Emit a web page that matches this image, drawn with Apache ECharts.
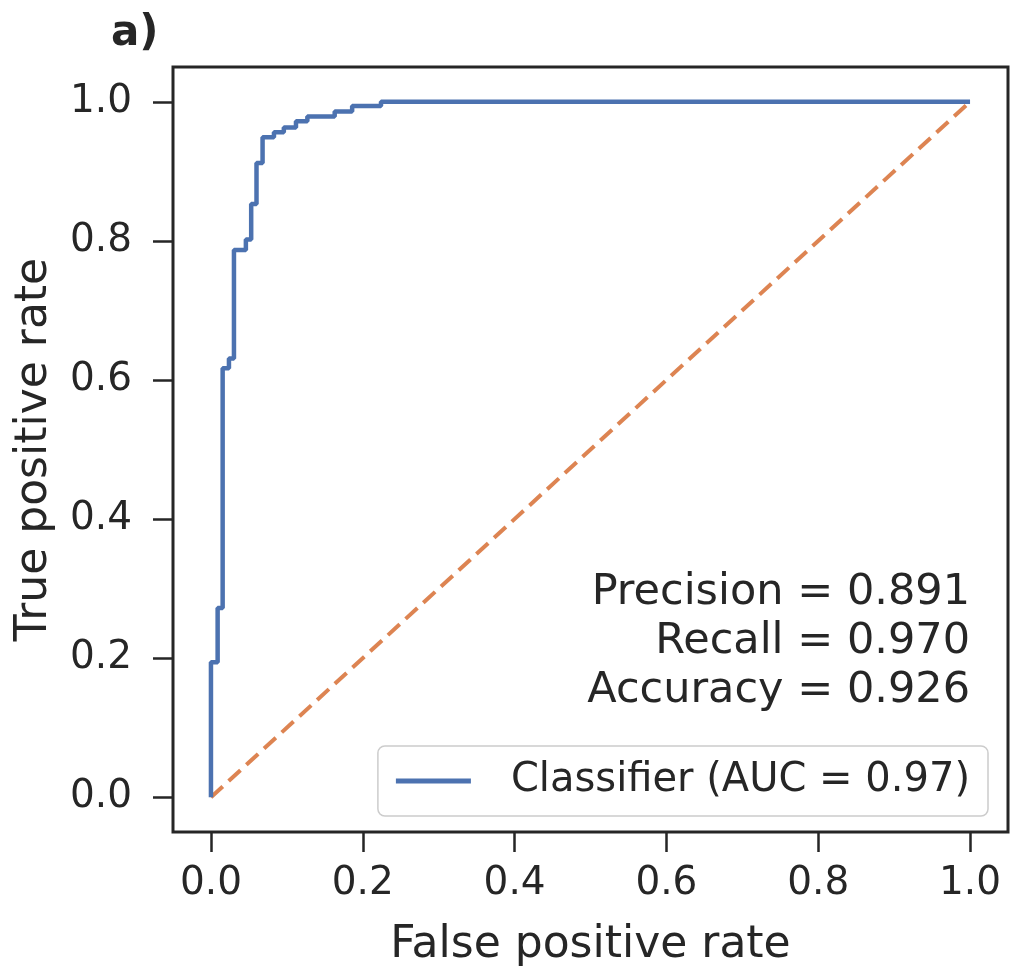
<!DOCTYPE html>
<html>
<head>
<meta charset="utf-8">
<script src="https://cdn.jsdelivr.net/npm/echarts@6/dist/echarts.min.js"></script>
<style>html,body{margin:0;padding:0;background:#fff}#c{width:1011px;height:973px}</style>
</head>
<body>
<div id="c"></div>
<script>
// ROC curve corner points (false positive rate, true positive rate)
const fpr = [0, 0, 0.0088, 0.0088, 0.0154, 0.0154, 0.0237, 0.0237, 0.0303, 0.0303, 0.046, 0.046, 0.053, 0.053, 0.060, 0.060, 0.068, 0.068, 0.083, 0.083, 0.096, 0.096, 0.112, 0.112, 0.127, 0.127, 0.163, 0.163, 0.186, 0.186, 0.224, 0.224, 1.0];
const tpr = [0, 0.194, 0.194, 0.272, 0.272, 0.617, 0.617, 0.631, 0.631, 0.787, 0.787, 0.802, 0.802, 0.853, 0.853, 0.912, 0.912, 0.949, 0.949, 0.956, 0.956, 0.963, 0.963, 0.972, 0.972, 0.979, 0.979, 0.986, 0.986, 0.994, 0.994, 1.0, 1.0];
const chanceX = [0, 1];
const chanceY = [0, 1];
const tickValues = [0, 0.2, 0.4, 0.6, 0.8, 1.0];
const seriesName = 'Classifier (AUC = 0.97)';
const metricsText = ['Precision = 0.891', 'Recall = 0.970', 'Accuracy = 0.926'];
const panelLabel = 'a)';
const xName = 'False positive rate';
const yName = 'True positive rate';

const FONT = 'DejaVu Sans';
const TXT = '#262626';
const chart = echarts.init(document.getElementById('c'));

function axis(name, isX) {
  return {
    type: 'value', min: -0.05, max: 1.05,
    name: name, nameLocation: 'middle', nameGap: isX ? 92 : 116,
    nameTextStyle: {fontFamily: FONT, fontSize: 44, color: TXT},
    axisLine: {show: false, onZero: false},
    axisTick: {show: true, length: 20, customValues: tickValues, lineStyle: {color: TXT, width: 2.5}},
    axisLabel: {customValues: tickValues, fontFamily: FONT, fontSize: 39, color: TXT, margin: isX ? 32 : 41,
      formatter: v => v.toFixed(1)},
    splitLine: {show: false}
  };
}

chart.setOption({
  animation: false,
  backgroundColor: '#fff',
  title: {text: panelLabel, left: 106, top: 8, textStyle: {fontFamily: FONT, fontSize: 42, fontWeight: 'bold', color: TXT}},
  grid: {left: 173, top: 67, width: 835, height: 771, show: true, borderColor: TXT, borderWidth: 3, backgroundColor: 'transparent'},
  xAxis: axis(xName, true),
  yAxis: axis(yName, false),
  legend: {
    data: [{name: seriesName, icon: 'rect'}], right: 23, top: 746,
    orient: 'vertical',
    padding: [15, 18, 15, 18],
    borderColor: '#cccccc', borderWidth: 1.5, borderRadius: 7,
    itemWidth: 75, itemHeight: 5,
    itemStyle: {color: '#4c72b0'},
    textStyle: {fontFamily: FONT, fontSize: 40, color: TXT, padding: [0, 0, 0, 35]}
  },
  graphic: metricsText.map((t, i) => ({
    type: 'text', right: 41, top: 568 + i * 49,
    style: {text: t, fontFamily: FONT, fontSize: 43, fill: TXT, lineHeight: 49}
  })),
  series: [
    {name: seriesName, type: 'line', data: fpr.map((x, i) => [x, tpr[i]]), symbol: 'none', z: 3,
      lineStyle: {color: '#4c72b0', width: 4.5}, itemStyle: {color: '#4c72b0'}},
    {name: 'chance', type: 'line', data: chanceX.map((x, i) => [x, chanceY[i]]), symbol: 'none', z: 2,
      lineStyle: {color: '#dd8452', width: 4, type: [16, 8]}, itemStyle: {color: '#dd8452'}}
  ]
});
</script>
</body>
</html>
